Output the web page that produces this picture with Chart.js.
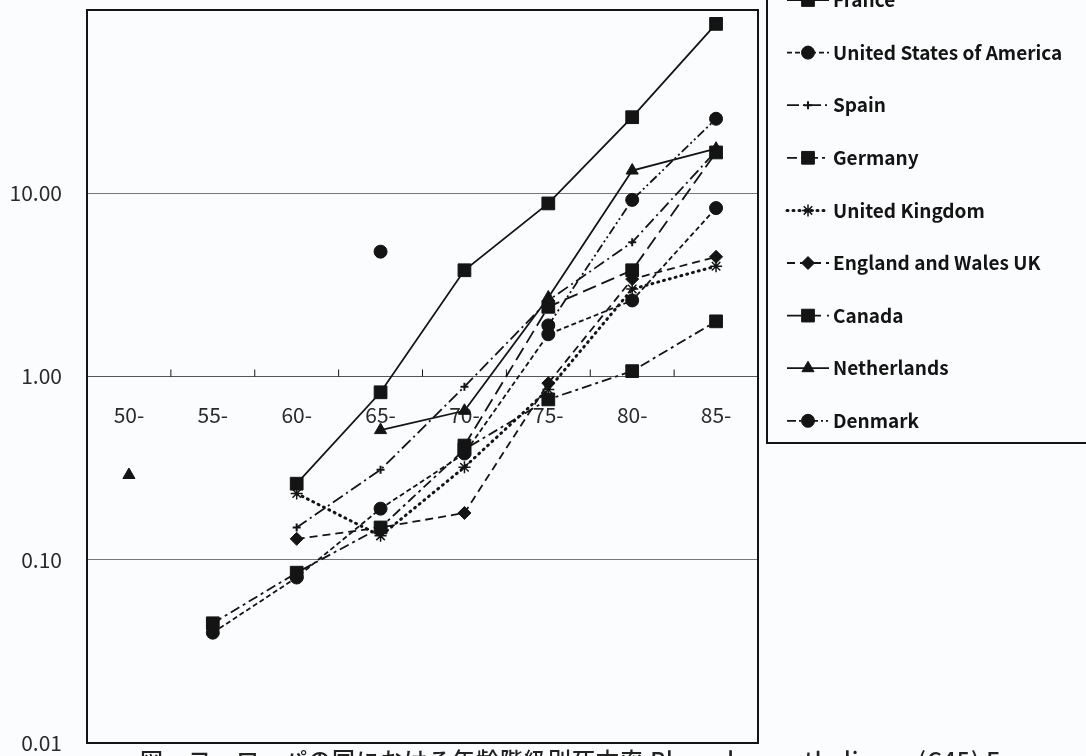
<!DOCTYPE html>
<html>
<head>
<meta charset="utf-8">
<script src="https://cdn.jsdelivr.net/npm/chart.js@4.4.0/dist/chart.umd.min.js"></script>
<style>
  html, body { margin: 0; padding: 0; background: #fbfcfd; overflow: hidden; }
  #wrap { position: relative; width: 1086px; height: 756px; overflow: hidden; }
  #caption {
    position: absolute; left: 140px; top: 746px; white-space: nowrap;
    font-family: "Noto Sans CJK JP", sans-serif; font-size: 23px; font-weight: 500;
    letter-spacing: 1px; color: #222; line-height: 26px;
  }
</style>
</head>
<body>
<div id="wrap">
  <canvas id="lineChart" width="1086" height="756"></canvas>
  <div id="caption">図　ヨーロッパの国における年齢階級別死亡率 Pleural mesothelioma (C45)  Europe</div>
</div>
<script>
// age groups
const ageGroups = ['50-', '55-', '60-', '65-', '70-', '75-', '80-', '85-'];
const yTicks = [0.01, 0.1, 1, 10, 100];

// rates (null = no point)
const france      = [null, null, 0.26, 0.82, 3.8, 8.8, 26, 84];
const usa         = [null, 0.040, 0.080, 0.19, 0.38, 1.7, 2.6, 8.3];
const spain       = [null, null, 0.15, 0.31, 0.88, 2.6, 5.4, 17];
const germany     = [null, 0.045, 0.085, 0.15, 0.40, 0.75, 1.07, 2.0];
const uk          = [null, null, 0.23, 0.135, 0.32, 0.85, 3.0, 4.0];
const englandWales= [null, null, 0.13, 0.15, 0.18, 0.92, 3.4, 4.5];
const canada      = [null, null, null, null, 0.42, 2.4, 3.8, 16.7];
const netherlands = [0.29, null, null, 0.51, 0.65, 2.7, 13.3, 17.5];
const denmark     = [null, null, null, 4.8, null, 1.9, 9.2, 25.5];

const ink = '#141414';
const font = '"Noto Sans CJK JP", "Noto Sans", sans-serif';

function series(label, data, pointStyle, radius, dash, extra) {
    return Object.assign({
        label: label,
        data: data,
        borderColor: ink,
        backgroundColor: ink,
        pointBackgroundColor: ink,
        pointBorderColor: ink,
        borderWidth: 1.8,
        borderDash: dash,
        pointStyle: pointStyle,
        pointRadius: radius,
        pointBorderWidth: 1,
        spanGaps: false,
        tension: 0
    }, extra || {});
}

const datasets = [
    series('France', france, 'rect', 9, []),
    series('United States of America', usa, 'circle', 6.5, [5, 3]),
    series('Spain', spain, 'cross', 4, [12, 4, 2, 4], {pointBorderWidth: 2}),
    series('Germany', germany, 'rect', 9, [10, 4, 3, 4]),
    series('United Kingdom', uk, 'star', 6, [1, 5], {borderWidth: 3, borderCapStyle: 'round', pointBorderWidth: 1.5}),
    series('England and Wales UK', englandWales, 'rectRot', 6.5, [8, 5]),
    series('Canada', canada, 'rect', 9, [14, 6]),
    series('Netherlands', netherlands, 'triangle', 7, []),
    series('Denmark', denmark, 'circle', 6.5, [9, 3, 2, 3, 2, 3])
];

// frame around the plot, small upward ticks on the x axis, hand-drawn legend box
const framePlugin = {
    id: 'frame',
    beforeDraw(chart) {
        const ctx = chart.ctx;
        ctx.save();
        ctx.fillStyle = '#fbfcfd';
        ctx.fillRect(0, 0, chart.width, chart.height);
        ctx.restore();
    },
    afterDraw(chart) {
        const ctx = chart.ctx;
        const a = chart.chartArea;
        const xs = chart.scales.x;
        const ys = chart.scales.y;
        ctx.save();
        ctx.strokeStyle = ink;
        ctx.lineWidth = 2;
        ctx.strokeRect(a.left, a.top, a.right - a.left, a.bottom - a.top);

        // tick marks between categories, pointing up from the 1.00 line
        const y1 = ys.getPixelForValue(1);
        ctx.lineWidth = 1;
        for (let i = 0; i < ageGroups.length - 1; i++) {
            const x = (xs.getPixelForValue(i) + xs.getPixelForValue(i + 1)) / 2;
            ctx.beginPath();
            ctx.moveTo(x, y1);
            ctx.lineTo(x, y1 - 7);
            ctx.stroke();
        }

        // legend
        ctx.lineWidth = 2;
        ctx.strokeRect(767, -20, 400, 463);
        ctx.font = '600 19px ' + font;
        ctx.textBaseline = 'middle';
        ctx.fillStyle = ink;
        chart.data.datasets.forEach(function(ds, i) {
            const y = 0 + i * 52.6;
            ctx.save();
            ctx.lineWidth = ds.borderWidth;
            ctx.lineCap = ds.borderCapStyle || 'butt';
            ctx.setLineDash(ds.borderDash);
            ctx.beginPath();
            ctx.moveTo(787, y);
            ctx.lineTo(829, y);
            ctx.stroke();
            ctx.restore();
            ctx.save();
            ctx.fillStyle = ink;
            ctx.strokeStyle = ink;
            ctx.lineWidth = ds.pointBorderWidth;
            Chart.helpers.drawPoint(ctx, {
                pointStyle: ds.pointStyle,
                radius: ds.pointRadius,
                rotation: 0,
                borderWidth: ds.pointBorderWidth
            }, 808, y);
            ctx.restore();
            ctx.fillText(ds.label, 833, y);
        });
        ctx.restore();
    }
};

const line = document.getElementById('lineChart');
const myLineChart = new Chart(line, {
    type: 'line',
    data: {
        labels: ageGroups,
        datasets: datasets
    },
    options: {
        responsive: false,
        animation: false,
        devicePixelRatio: 1,
        layout: {
            padding: {left: 0, top: 9, right: 328, bottom: 13}
        },
        plugins: {
            legend: {display: false},
            tooltip: {enabled: false}
        },
        scales: {
            x: {
                type: 'category',
                offset: true,
                position: {y: 1},
                afterFit: function(scale) {
                    scale.height = 0;
                    scale.paddingLeft = 0; scale.paddingRight = 0;
                    scale.paddingTop = 0; scale.paddingBottom = 0;
                },
                grid: {display: true, color: 'rgba(0,0,0,0)', drawTicks: false},
                border: {display: true, color: '#555', width: 1},
                ticks: {
                    color: '#2a2a2a',
                    padding: 26,
                    font: {family: font, size: 21}
                }
            },
            y: {
                type: 'logarithmic',
                min: 0.01,
                max: 100,
                afterFit: function(scale) {
                    scale.width = 87;
                    scale.paddingTop = 0; scale.paddingBottom = 0;
                },
                afterBuildTicks: function(scale) {
                    scale.ticks = yTicks.map(function(v) { return {value: v}; });
                },
                grid: {color: '#777', lineWidth: 1, drawTicks: false},
                border: {display: true, color: ink, width: 2},
                ticks: {
                    color: '#2a2a2a',
                    padding: 25,
                    font: {family: font, size: 21},
                    callback: function(v) {
                        return v >= 100 ? '' : Number(v).toFixed(2);
                    }
                }
            }
        }
    },
    plugins: [framePlugin]
});
</script>
</body>
</html>
